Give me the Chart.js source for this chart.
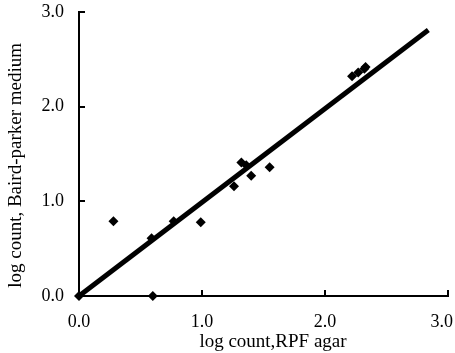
<!DOCTYPE html>
<html>
<head>
<meta charset="utf-8">
<script src="https://cdn.jsdelivr.net/npm/chart.js@4"></script>
<style>
  html, body { margin: 0; padding: 0; background: #fff; }
  #wrap { width: 455px; height: 353px; }
</style>
</head>
<body>
<div id="wrap"><canvas id="grafico"></canvas></div>
<script>
// ---- DADOS ----
const rpfAgar = [0, 0.60, 0.28, 0.59, 0.77, 0.99, 1.26, 1.32, 1.36, 1.40, 1.55, 2.22, 2.27, 2.32, 2.33];
const bairdParker = [0, 0, 0.79, 0.61, 0.79, 0.78, 1.16, 1.41, 1.38, 1.27, 1.36, 2.32, 2.36, 2.40, 2.42];
const lineX = [0, 2.84];
const lineY = [0, 2.81];
const tickValues = [0, 1, 2, 3];
const tituloX = "log count,RPF agar";
const tituloY = "log count, Baird-parker medium";

const pontos = rpfAgar.map((x, i) => ({ x: x, y: bairdParker[i] }));
const reta = lineX.map((x, i) => ({ x: x, y: lineY[i] }));

// ---- TICKS PARA DENTRO ----
const ticksInternos = {
  id: "ticksInternos",
  afterDatasetsDraw(chart) {
    const ctx = chart.ctx;
    const xs = chart.scales.x, ys = chart.scales.y;
    ctx.save();
    ctx.strokeStyle = "#000";
    ctx.lineWidth = 2;
    tickValues.forEach(v => {
      const px = Math.round(xs.getPixelForValue(v));
      ctx.beginPath();
      ctx.moveTo(px, ys.bottom);
      ctx.lineTo(px, ys.bottom - 6);
      ctx.stroke();
      const py = Math.round(ys.getPixelForValue(v));
      ctx.beginPath();
      ctx.moveTo(xs.left, py);
      ctx.lineTo(xs.left + 6, py);
      ctx.stroke();
    });
    ctx.restore();
  }
};

const fonteTick = { family: "'Liberation Serif', 'Times New Roman', serif", size: 18 };
const fonteTitulo = { family: "'Liberation Serif', 'Times New Roman', serif", size: 19, lineHeight: 1 };

new Chart(document.getElementById("grafico"), {
  type: "scatter",
  data: {
    datasets: [{
      type: "line",
      data: reta,
      borderColor: "#000",
      borderWidth: 5,
      pointRadius: 0,
      fill: false,
      clip: false,
      order: 2
    }, {
      data: pontos,
      pointStyle: "rectRot",
      pointRadius: 5,
      backgroundColor: "#000",
      borderColor: "#000",
      borderWidth: 0,
      clip: false,
      order: 1
    }]
  },
  options: {
    responsive: true,
    maintainAspectRatio: false,
    animation: false,
    layout: { padding: { top: 0, right: 7, left: 0, bottom: 0 } },
    plugins: { legend: { display: false }, tooltip: { enabled: false } },
    scales: {
      x: {
        type: "linear",
        min: 0, max: 3,
        afterBuildTicks: s => { s.ticks = tickValues.map(v => ({ value: v })); },
        afterFit: s => { s.height = 57; s.paddingRight = 0; },
        ticks: {
          color: "#000", font: fonteTick, padding: 15,
          callback: v => v === 3 ? "3.0\u2002\u2009" : v.toFixed(1)
        },
        grid: { display: true, drawOnChartArea: false, drawTicks: false },
        border: { color: "#000", width: 2 },
        title: { display: true, text: "\u2003" + tituloX, color: "#000", font: fonteTitulo, padding: { top: 0, bottom: 1 } }
      },
      y: {
        type: "linear",
        min: 0, max: 3,
        afterBuildTicks: s => { s.ticks = tickValues.map(v => ({ value: v })); },
        afterFit: s => { s.width = 79; s.paddingTop = 12; s.paddingBottom = 0; },
        ticks: { color: "#000", font: fonteTick, padding: 15, callback: v => v.toFixed(1) },
        grid: { display: true, drawOnChartArea: false, drawTicks: false },
        border: { color: "#000", width: 2 },
        title: { display: true, text: tituloY + "\u2003\u2009", color: "#000", font: fonteTitulo, padding: { top: 7, bottom: 0 } }
      }
    }
  },
  plugins: [ticksInternos]
});
</script>
</body>
</html>
